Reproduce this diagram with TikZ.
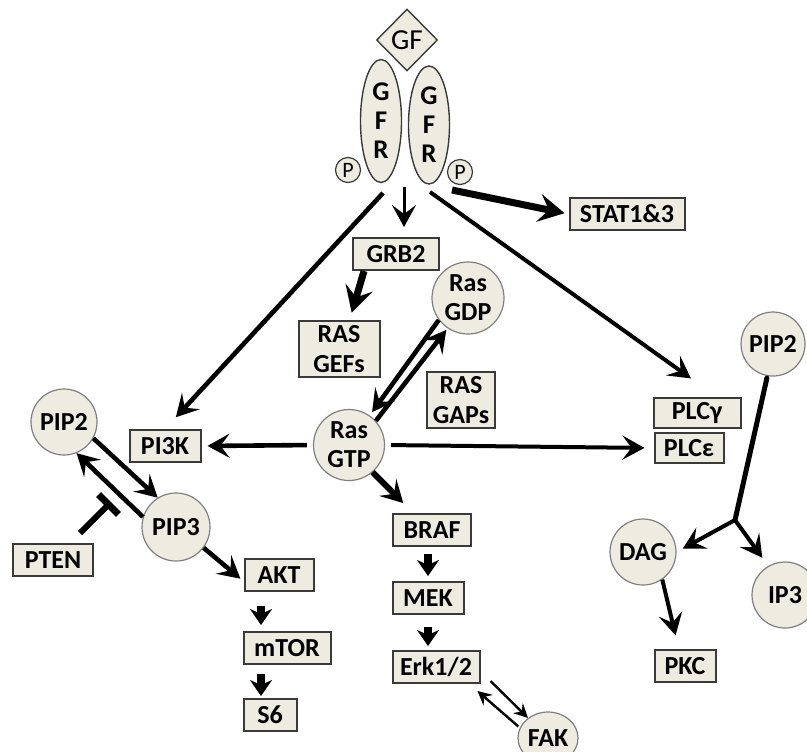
\documentclass[tikz,border=0pt]{standalone}
\usepackage{fontspec}
\setmainfont{Carlito}
\usetikzlibrary{arrows.meta, shapes.geometric}
\definecolor{molfill}{HTML}{EEECE1}
\definecolor{boxline}{HTML}{3A3A3A}
\definecolor{molline}{HTML}{7F7F7F}

\begin{document}
\begin{tikzpicture}[x=0.5pt, y=-0.5pt,
  box/.style={rectangle, draw=boxline, fill=molfill, line width=1pt,
              inner xsep=2pt, inner ysep=2pt, minimum height=16pt, align=center,
              font=\bfseries\fontsize{13}{15}\selectfont},
  mol/.style={circle, draw=molline, fill=molfill, line width=0.6pt, inner sep=0pt,
              minimum size=33pt, align=center, font=\bfseries\fontsize{13}{14.5}\selectfont},
  recep/.style={ellipse, draw=boxline, fill=molfill, line width=0.7pt, inner sep=0pt,
                minimum width=20.5pt, minimum height=61.5pt, align=center,
                font=\bfseries\fontsize{13.5}{14.5}\selectfont},
  ligand/.style={diamond, draw=boxline, fill=molfill, line width=0.7pt, inner sep=0pt,
                 minimum width=30.5pt, minimum height=31pt, font=\fontsize{14.5}{14.5}\selectfont},
  phos/.style={circle, draw=boxline, fill=molfill, line width=0.6pt, inner sep=0pt,
               minimum size=12.5pt, font=\fontsize{11}{11}\selectfont},
  act/.style={draw=black, line width=2.3pt, -{Stealth[length=11pt, width=12pt, inset=4.5pt]}},
  heavy/.style={act, line width=3.5pt, -{Stealth[length=13pt, width=14pt, inset=5pt]}},
  stub/.style={draw=black, line width=4pt, -{Stealth[length=8pt, width=11pt, inset=2.5pt]}},
  fine/.style={draw=black, line width=1.2pt, -{Stealth[length=7pt, width=7pt, inset=2.5pt]}},
  inhibit/.style={draw=black, line width=3pt, -{Bar[width=14pt, line width=3.5pt]}},
]
\useasboundingbox (0,0) rectangle (807,751);
% receptor dimer
\node[ligand] (gf) at (407,40) {GF};
\node[recep] (gfrL) at (381,121) {G\\F\\R};
\node[recep, minimum height=59pt] (gfrR) at (429,125) {G\\F\\R};
\node[phos] (pL) at (348,170) {P};
\node[phos] (pR) at (460,172) {P};
% adaptors and enzymes
\node[box, minimum width=43pt] (grb2) at (396,254) {GRB2};
\node[box, minimum width=40.5pt] (gefs) at (339,349) {RAS\\GEFs};
\node[box, minimum width=34pt] (gaps) at (461,400) {RAS\\GAPs};
\node[box, minimum width=57.5pt] (stat) at (627,214) {STAT1\&3};
\node[box, minimum width=35.5pt] (pi3k) at (165,446) {PI3K};
\node[box, minimum width=43.5pt, minimum height=15pt] (plcg) at (697,413) {PLCγ};
\node[box, minimum width=34.5pt, minimum height=15pt] (plce) at (689,448) {PLCε};
\node[box, minimum width=40pt] (pten) at (53,560) {PTEN};
\node[box, minimum width=34.5pt] (akt) at (279,575) {AKT};
\node[box, minimum width=43.5pt] (mtor) at (287,648) {mTOR};
\node[box, minimum width=26.5pt] (s6) at (270,715) {S6};
\node[box, minimum width=39pt] (braf) at (432,530) {BRAF};
\node[box, minimum width=35.5pt] (mek) at (428,598) {MEK};
\node[box, minimum width=43.5pt] (erk) at (436,667) {Erk1/2};
\node[box, minimum width=30.5pt] (pkc) at (685,666) {PKC};
% small molecules
\node[mol, minimum size=36pt] (gdp) at (468,298) {Ras\\GDP};
\node[mol, minimum size=35.5pt] (gtp) at (349,445) {Ras\\GTP};
\node[mol] (pip2L) at (64,422) {PIP2};
\node[mol, minimum size=34pt] (pip3) at (176,527) {PIP3};
\node[mol, minimum size=32pt] (pip2R) at (773,344) {PIP2};
\node[mol] (dag) at (643,552) {DAG};
\node[mol] (ip3) at (785,595) {IP3};
\node[mol, ellipse, minimum width=30pt, minimum height=26pt] (fak) at (548,738) {FAK};
% receptor outputs
\coordinate (outL) at (383,193);
\coordinate (outM) at (404,187);
\coordinate (outR) at (430,192);
\coordinate (outS) at (452,190);
\draw[act, shorten >=8pt] (outL) -- (pi3k.north);
\draw[act, line width=1.5pt, shorten >=5pt] (outM) -- (outM |- grb2.north);
\draw[act, line width=2pt, shorten >=16pt] (outR) -- ([xshift=10pt]plcg.north);
\draw[heavy, shorten >=2pt] (outS) -- (stat.west);
% ras cycle
\draw[heavy, shorten >=4pt] (grb2.208) -- (gefs.70);
\draw[act, shorten >=2pt] (gdp.217) -- (gtp.55);
\draw[act, shorten >=1pt] (gtp.42) -- (gdp.236);
% ras effectors
\draw[act, shorten <=3pt, shorten >=3pt] (gtp.west) -- (pi3k.east);
\draw[act, line width=2pt, shorten <=3pt, shorten >=4.5pt] (gtp.east) -- (plce.west);
\draw[act, line width=3pt, shorten >=7pt] (gtp.-49) -- (braf.138);
\draw[stub, shorten <=3.5pt, shorten >=2.5pt] (mek.north |- braf.south) -- (mek.north);
\draw[stub, shorten <=6pt, shorten >=2pt] (mek.south) -- (mek.south |- erk.north);
\draw[fine] ([xshift=5pt, yshift=1.5pt]erk.south east) -- (fak.135);
\draw[fine, shorten <=1pt] (fak.160) -- ([xshift=-1.5pt, yshift=-3.5pt]erk.south east);
% pi3k branch
\draw[act] (pip2L.-29) -- (pip3.122);
\draw[act] (pip3.163) -- (pip2L.-68);
\coordinate (ptenbar) at (111,502);
\draw[inhibit, shorten <=7pt] (pten) -- (ptenbar);
\draw[act, shorten >=2pt] (pip3.-37) -- (akt.190);
\draw[stub, shorten <=7pt, shorten >=3pt] ([xshift=-9pt]akt.south) -- ([xshift=-13pt]mtor.north);
\draw[stub, shorten <=4.5pt, shorten >=1pt] ([xshift=-13pt]mtor.south) -- ([xshift=-4.5pt]s6.north);
% plc branch
\coordinate (split) at (735,520);
\draw[line width=2.5pt, line cap=round, shorten <=1pt] (pip2R.-100) -- (split);
\draw[act, line width=2pt, shorten >=3.5pt] (split) -- (dag.east);
\draw[act, line width=2pt, shorten >=5pt] (split) -- (ip3.120);
\draw[act, line width=2pt, shorten >=7pt] (dag.-55) -- (pkc.110);
\end{tikzpicture}
\end{document}
